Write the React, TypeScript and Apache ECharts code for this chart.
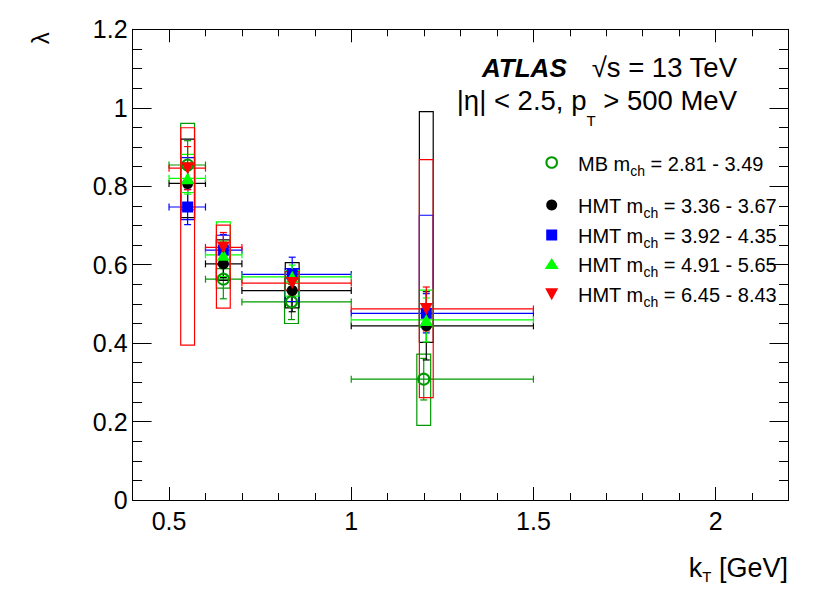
import React, { useEffect, useRef } from "react";
import * as echarts from "echarts";

// ---- data ----
const BIN_LO = [0.5, 0.6, 0.7, 1.0];
const BIN_HI = [0.6, 0.7, 1.0, 1.5];

const MB_KT = [0.551, 0.649, 0.836, 1.199];
const MB_LAMBDA = [0.854, 0.563, 0.505, 0.308];
const MB_STAT = [0.062, 0.05, 0.045, 0.053];
const MB_SYS_LO = [0.74, 0.54, 0.45, 0.19];
const MB_SYS_HI = [0.96, 0.59, 0.565, 0.372];

const HMT1_KT = [0.551, 0.649, 0.838, 1.206];
const HMT1_LAMBDA = [0.807, 0.602, 0.534, 0.444];
const HMT1_STAT = [0.05, 0.035, 0.054, 0.087];
const HMT1_SYS_LO = [0.72, 0.56, 0.49, 0.402];
const HMT1_SYS_HI = [0.92, 0.663, 0.605, 0.99];

const HMT2_KT = [0.551, 0.649, 0.838, 1.206];
const HMT2_LAMBDA = [0.747, 0.637, 0.575, 0.476];
const HMT2_STAT = [0.045, 0.04, 0.044, 0.05];
const HMT2_SYS_LO = [0.715, 0.6, 0.506, 0.445];
const HMT2_SYS_HI = [0.873, 0.675, 0.59, 0.726];

const HMT3_KT = [0.551, 0.649, 0.838, 1.206];
const HMT3_LAMBDA = [0.82, 0.625, 0.569, 0.459];
const HMT3_STAT = [0.04, 0.035, 0.03, 0.056];
const HMT3_SYS_LO = [0.784, 0.57, 0.52, 0.44];
const HMT3_SYS_HI = [0.881, 0.709, 0.585, 0.535];

const HMT4_KT = [0.551, 0.649, 0.838, 1.206];
const HMT4_LAMBDA = [0.846, 0.644, 0.553, 0.487];
const HMT4_STAT = [0.055, 0.038, 0.03, 0.056];
const HMT4_SYS_LO = [0.395, 0.489, 0.535, 0.261];
const HMT4_SYS_HI = [0.949, 0.701, 0.582, 0.868];

const LEGEND_LABELS = [
  ["MB m", "ch", " = 2.81 - 3.49"],
  ["HMT m", "ch", " = 3.36 - 3.67"],
  ["HMT m", "ch", " = 3.92 - 4.35"],
  ["HMT m", "ch", " = 4.91 - 5.65"],
  ["HMT m", "ch", " = 6.45 - 8.43"],
];

const X_MIN = 0.4;
const X_MAX = 2.2;
const Y_MIN = 0;
const Y_MAX = 1.2;
const X_MAJOR = [0.5, 1, 1.5, 2];
const X_MINOR = [0.6, 0.7, 0.8, 0.9, 1.1, 1.2, 1.3, 1.4, 1.6, 1.7, 1.8, 1.9, 2.1];
const Y_MAJOR = [0, 0.2, 0.4, 0.6, 0.8, 1, 1.2];
const Y_MINOR = [0.05, 0.1, 0.15, 0.25, 0.3, 0.35, 0.45, 0.5, 0.55, 0.65, 0.7, 0.75, 0.85, 0.9, 0.95, 1.05, 1.1, 1.15];

// ---- styles ----
const FONT = "'Liberation Sans', Arial, Helvetica, sans-serif";
const C_MB = "#009900";
const C_BLACK = "#000000";
const C_BLUE = "#0000ff";
const C_LIME = "#00ff00";
const C_RED = "#ff0000";
const BOX_HALF = 0.019;
const CAP = 3.5;
const LW = 1.2;

type Ser = {
  name: string; kt: number[]; lambda: number[]; stat: number[]; sysLo: number[]; sysHi: number[];
  color: string; symbol: string; size: any; rotate: number; open: boolean;
};

const SERIES: Ser[] = [
  { name: "MB", kt: MB_KT, lambda: MB_LAMBDA, stat: MB_STAT, sysLo: MB_SYS_LO, sysHi: MB_SYS_HI, color: C_MB, symbol: "circle", size: 11, rotate: 0, open: true },
  { name: "HMT1", kt: HMT1_KT, lambda: HMT1_LAMBDA, stat: HMT1_STAT, sysLo: HMT1_SYS_LO, sysHi: HMT1_SYS_HI, color: C_BLACK, symbol: "circle", size: 11, rotate: 0, open: false },
  { name: "HMT2", kt: HMT2_KT, lambda: HMT2_LAMBDA, stat: HMT2_STAT, sysLo: HMT2_SYS_LO, sysHi: HMT2_SYS_HI, color: C_BLUE, symbol: "rect", size: 11, rotate: 0, open: false },
  { name: "HMT3", kt: HMT3_KT, lambda: HMT3_LAMBDA, stat: HMT3_STAT, sysLo: HMT3_SYS_LO, sysHi: HMT3_SYS_HI, color: C_LIME, symbol: "triangle", size: [13, 12], rotate: 0, open: false },
  { name: "HMT4", kt: HMT4_KT, lambda: HMT4_LAMBDA, stat: HMT4_STAT, sysLo: HMT4_SYS_LO, sysHi: HMT4_SYS_HI, color: C_RED, symbol: "triangle", size: [13, 12], rotate: 180, open: false },
];

function makeRenderItem(color: string) {
  return (params: any, api: any) => {
    const x = api.value(0), y = api.value(1);
    const sLo = api.value(2), sHi = api.value(3);
    const yLo = api.value(4), yHi = api.value(5);
    const bLo = api.value(6), bHi = api.value(7);
    const c = api.coord([x, y]);
    const hl = api.coord([bLo, y]);
    const hr = api.coord([bHi, y]);
    const vt = api.coord([x, sHi]);
    const vb = api.coord([x, sLo]);
    const b0 = api.coord([x - BOX_HALF, yHi]);
    const b1 = api.coord([x + BOX_HALF, yLo]);
    const ls = { stroke: color, lineWidth: LW, fill: "none" };
    const line = (x1: number, y1: number, x2: number, y2: number) => ({
      type: "line", shape: { x1, y1, x2, y2 }, style: ls,
    });
    return {
      type: "group",
      children: [
        { type: "rect", shape: { x: b0[0], y: b0[1], width: b1[0] - b0[0], height: b1[1] - b0[1] }, style: { fill: "none", stroke: color, lineWidth: LW } },
        line(hl[0], c[1], hr[0], c[1]),
        line(hl[0], c[1] - CAP, hl[0], c[1] + CAP),
        line(hr[0], c[1] - CAP, hr[0], c[1] + CAP),
        line(c[0], vt[1], c[0], vb[1]),
        line(c[0] - CAP, vt[1], c[0] + CAP, vt[1]),
        line(c[0] - CAP, vb[1], c[0] + CAP, vb[1]),
      ],
    };
  };
}

function xAx(position: string, ticks: number[], len: number, showLine: boolean, showLabel: boolean) {
  return {
    type: "value", position, min: X_MIN, max: X_MAX, gridIndex: 0,
    axisLine: { show: showLine, onZero: false, lineStyle: { color: "#000", width: 1 } },
    axisTick: { show: true, inside: true, length: len, customValues: ticks, lineStyle: { color: "#000", width: 1 } },
    axisLabel: showLabel
      ? { show: true, customValues: X_MAJOR, formatter: (v: number) => String(v), fontSize: 25, color: "#000", fontFamily: FONT, margin: 8 }
      : { show: false },
    splitLine: { show: false }, minorTick: { show: false }, minorSplitLine: { show: false },
  };
}

function yAx(position: string, ticks: number[], len: number, showLine: boolean, showLabel: boolean) {
  return {
    type: "value", position, min: Y_MIN, max: Y_MAX, gridIndex: 0,
    axisLine: { show: showLine, onZero: false, lineStyle: { color: "#000", width: 1 } },
    axisTick: { show: true, inside: true, length: len, customValues: ticks, lineStyle: { color: "#000", width: 1 } },
    axisLabel: showLabel
      ? { show: true, customValues: Y_MAJOR, formatter: (v: number) => String(v), fontSize: 25, color: "#000", fontFamily: FONT, margin: 5 }
      : { show: false },
    splitLine: { show: false }, minorTick: { show: false }, minorSplitLine: { show: false },
  };
}

function txt(x: number, y: number, text: string, opts: any = {}) {
  const align = opts.align || "left";
  return {
    type: "text", x, y, silent: true, z: 10,
    style: {
      text, fill: "#000", fontFamily: FONT, fontSize: opts.fontSize || 20,
      fontWeight: opts.fontWeight || "normal", fontStyle: opts.fontStyle || "normal",
      align, textAlign: align, verticalAlign: "middle", textVerticalAlign: "middle",
      rich: opts.rich,
    },
  };
}

function subRich(main: number, sub: number, lh: number) {
  return {
    a: { fontSize: main, lineHeight: lh, fontFamily: FONT, fill: "#000" },
    s: { fontSize: sub, lineHeight: sub, fontFamily: FONT, fill: "#000", verticalAlign: "bottom" },
  };
}

export default function App() {
  const ref = useRef<HTMLDivElement>(null);
  useEffect(() => {
    if (!ref.current) return;
    const chart = echarts.init(ref.current, null, { renderer: "svg" });

    const customSeries = SERIES.map((s) => ({
      type: "custom", name: s.name + "_err", xAxisIndex: 0, yAxisIndex: 0, z: 2, silent: true,
      renderItem: makeRenderItem(s.color),
      data: s.kt.map((k, i) => [k, s.lambda[i], s.lambda[i] - s.stat[i], s.lambda[i] + s.stat[i], s.sysLo[i], s.sysHi[i], BIN_LO[i], BIN_HI[i]]),
    }));

    const scatterSeries = SERIES.map((s) => ({
      type: "scatter", name: s.name, xAxisIndex: 0, yAxisIndex: 0, z: 3, silent: true,
      symbol: s.symbol, symbolSize: s.size, symbolRotate: s.rotate,
      itemStyle: s.open
        ? { color: "rgba(0,0,0,0)", borderColor: s.color, borderWidth: 2, opacity: 1 }
        : { color: s.color, opacity: 1 },
      data: s.kt.map((k, i) => [k, s.lambda[i]]),
    }));

    const legendYs = [162.5, 205, 235, 264, 294.3];
    const legendX = 551.7;
    const legendIcons: any[] = [
      { type: "circle", shape: { cx: legendX, cy: legendYs[0], r: 5.3 }, style: { fill: "none", stroke: C_MB, lineWidth: 2 } },
      { type: "circle", shape: { cx: legendX, cy: legendYs[1], r: 5.5 }, style: { fill: C_BLACK } },
      { type: "rect", shape: { x: legendX - 5.5, y: legendYs[2] - 5.5, width: 11, height: 11 }, style: { fill: C_BLUE } },
      { type: "polygon", shape: { points: [[legendX - 7, legendYs[3] + 5], [legendX + 7, legendYs[3] + 5], [legendX, legendYs[3] - 6]] }, style: { fill: C_LIME } },
      { type: "polygon", shape: { points: [[legendX - 6.5, legendYs[4] - 6], [legendX + 6.5, legendYs[4] - 6], [legendX, legendYs[4] + 6]] }, style: { fill: C_RED } },
    ].map((e) => ({ ...e, silent: true, z: 10 }));

    const legendTexts = LEGEND_LABELS.map((l, i) =>
      txt(578, legendYs[i] + 1, `{a|${l[0]}}{s|${l[1]}}{a|${l[2]}}`, { rich: subRich(20, 14, 28) })
    );

    const titleAxis = {
      type: "value", position: "left", offset: 92.6, min: Y_MIN, max: Y_MAX, gridIndex: 0,
      axisLine: { show: false, onZero: false }, axisTick: { show: false }, axisLabel: { show: false },
      splitLine: { show: false },
      name: "λ", nameLocation: "end", nameGap: -9, nameRotate: 90,
      nameTextStyle: { fontSize: 24, fontFamily: FONT, color: "#000", align: "center", verticalAlign: "middle" },
    };

    const option: any = {
      animation: false,
      backgroundColor: "#ffffff",
      grid: { left: 132.6, right: 41.5, top: 29.3, bottom: 96, containLabel: false, outerBoundsMode: "none" },
      xAxis: [
        xAx("bottom", X_MAJOR, 13, true, true),
        xAx("bottom", X_MINOR, 7, false, false),
        xAx("top", X_MAJOR, 13, true, false),
        xAx("top", X_MINOR, 7, false, false),
      ],
      yAxis: [
        yAx("left", Y_MAJOR, 19, true, true),
        yAx("left", Y_MINOR, 9.5, false, false),
        yAx("right", Y_MAJOR, 19, true, false),
        yAx("right", Y_MINOR, 9.5, false, false),
        titleAxis,
      ],
      series: [...customSeries, ...scatterSeries],
      graphic: [
        txt(482, 67.9, "ATLAS", { fontSize: 26, fontWeight: "bold", fontStyle: "italic" }),
        txt(737, 67.9, "√s = 13 TeV", { fontSize: 27.5, align: "right" }),
        txt(737, 100.5, "{a||η| < 2.5, p}{s|T}{a| > 500 MeV}", { align: "right", rich: subRich(27.5, 15, 54) }),
        txt(788, 568, "{a|k}{s|T}{a| [GeV]}", { align: "right", rich: subRich(27, 15, 32) }),
        ...legendIcons,
        ...legendTexts,
      ],
    };
    chart.setOption(option);
    return () => chart.dispose();
  }, []);
  return (
    <div
      ref={ref}
      style={{ position: "fixed", left: 0, top: 0, width: 830, height: 596, background: "#fff" }}
    />
  );
}
